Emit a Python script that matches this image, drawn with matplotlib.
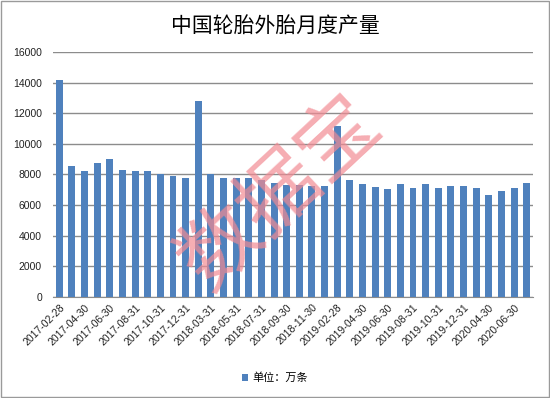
import numpy as np
import matplotlib
matplotlib.use('Agg')
import matplotlib.pyplot as plt
from matplotlib.patches import Rectangle

plt.rcParams['font.family'] = ['Liberation Sans', 'Noto Sans CJK SC']

# months (Jan merged into Feb, 2020-02 missing)
dates = ['2017-02-28', '2017-03-31', '2017-04-30', '2017-05-31', '2017-06-30', '2017-07-31',
         '2017-08-31', '2017-09-30', '2017-10-31', '2017-11-30', '2017-12-31',
         '2018-02-28', '2018-03-31', '2018-04-30', '2018-05-31', '2018-06-30', '2018-07-31',
         '2018-08-31', '2018-09-30', '2018-10-31', '2018-11-30', '2018-12-31',
         '2019-02-28', '2019-03-31', '2019-04-30', '2019-05-31', '2019-06-30', '2019-07-31',
         '2019-08-31', '2019-09-30', '2019-10-31', '2019-11-30', '2019-12-31',
         '2020-03-31', '2020-04-30', '2020-05-31', '2020-06-30', '2020-07-31']
output = [14150, 8530, 8200, 8730, 8990, 8270, 8200, 8200, 8010, 7920, 7750,
          12800, 8010, 7750, 7750, 7750, 7660, 7440, 7330, 7290, 7250, 7250,
          11160, 7660, 7360, 7180, 7030, 7360, 7090, 7360, 7140, 7250, 7250,
          7140, 6680, 6900, 7140, 7470]

bar_color = '#4F81BD'
grid_color = '#8c8c8c'

fig = plt.figure(figsize=(5.5, 3.98), dpi=100)
fig.patches.append(Rectangle((0.002, 0.003), 0.996, 0.994, transform=fig.transFigure,
                             fill=False, edgecolor='#9a9a9a', linewidth=1.0))
ax = fig.add_axes([0.0964, 0.2545, 0.8727, 0.6145])

x = np.arange(len(output))
ax.bar(x, output, width=0.55, color=bar_color, label='单位：万条', zorder=3)

ax.set_xlim(-0.5, len(output) - 0.5)
ax.set_ylim(0, 16000)
ax.set_yticks(np.arange(0, 16001, 2000))
ax.yaxis.grid(True, color=grid_color, linewidth=1.0, zorder=0)
ax.set_xticks(x[::2])
ax.set_xticklabels(dates[::2], rotation=45, ha='right', rotation_mode='anchor', fontsize=7.5,
                   color='#222222')
ax.tick_params(axis='y', labelsize=7.5, length=0, pad=8, labelcolor='#222222')
ax.tick_params(axis='x', length=0, pad=4)
for s in ['top', 'right', 'left']:
    ax.spines[s].set_visible(False)
ax.spines['bottom'].set_color(grid_color)

fig.text(0.5, 0.935, '中国轮胎外胎月度产量', ha='center', va='center', fontsize=15,
         family=['Noto Sans CJK SC'], fontweight='medium')

fig.legend(loc='center', bbox_to_anchor=(0.5, 0.05), frameon=False,
           handlelength=0.6, handleheight=0.6, handletextpad=0.4,
           prop={'family': ['Noto Sans CJK SC'], 'size': 8})

# watermark
fig.text(0.51, 0.515, '数据宝', ha='center', va='center', rotation=43, fontsize=58,
         color='#f28a92', alpha=0.7, family=['Noto Sans CJK SC'], zorder=10)

fig.savefig('out.png', dpi=100)
